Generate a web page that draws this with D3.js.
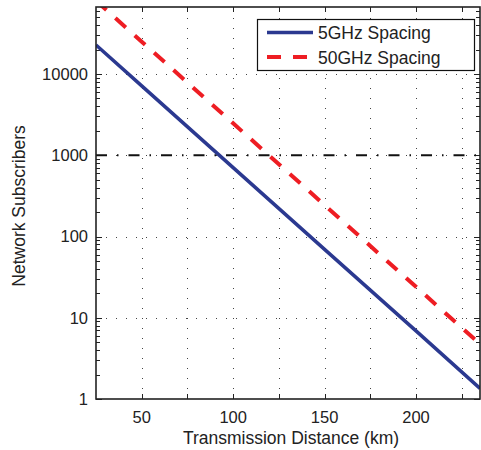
<!DOCTYPE html>
<html><head><meta charset="utf-8">
<script src="https://cdn.jsdelivr.net/npm/d3@7"></script>
<style>body{margin:0;background:#fff}svg{display:block}</style>
</head><body>
<svg id="c" width="481" height="450"></svg>
<script>
// ---- data ----
const distances = [25, 50, 100, 150, 200, 235];          // km
const subs5GHz  = [22800, 7150, 705, 69.5, 6.9, 1.35];
const subs50GHz = [79800, 25000, 2470, 244, 24, 4.75];
const targetSubscribers = 1000;
const xTickValues = [50, 75, 100, 125, 150, 175, 200, 225];
const xTickLabels = ["50", "", "100", "", "150", "", "200", ""];
const yTickValues = [1, 10, 100, 1000, 10000];
const yTickLabels = ["1", "10", "100", "1000", "10000"];
const seriesNames = ["5GHz Spacing", "50GHz Spacing"];
const xDomain = [25, 235];
const yDomain = [1, 66800];

// ---- layout ----
const L = 96, R = 480, T = 7, B = 399;
const svg = d3.select("#c");
const font = "'Liberation Sans', Arial, Helvetica, sans-serif";
const x = d3.scaleLinear().domain(xDomain).range([L, R]);
const y = d3.scaleLog().domain(yDomain).range([B, T]);

svg.append("defs").append("clipPath").attr("id","clip")
  .append("rect").attr("x",L).attr("y",T).attr("width",R-L).attr("height",B-T);

// grid
const grid = svg.append("g").attr("stroke","#444").attr("stroke-width",1).attr("stroke-dasharray","1,9");
grid.selectAll("line.v").data(xTickValues).join("line")
  .attr("x1",d=>Math.round(x(d))+0.5).attr("x2",d=>Math.round(x(d))+0.5).attr("y1",B).attr("y2",T);
grid.selectAll("line.h").data(yTickValues.filter(d=>d>1)).join("line")
  .attr("y1",d=>Math.round(y(d))+0.5).attr("y2",d=>Math.round(y(d))+0.5).attr("x1",L).attr("x2",R);

// ticks
const tk = svg.append("g").attr("stroke","#222").attr("stroke-width",1);
xTickValues.forEach(v=>{
  const xx = Math.round(x(v))+0.5;
  tk.append("line").attr("x1",xx).attr("x2",xx).attr("y1",B).attr("y2",B-5);
  tk.append("line").attr("x1",xx).attr("x2",xx).attr("y1",T).attr("y2",T+5);
});
const minor = [];
for (let e=0; e<5; e++) for (let m=2; m<=9; m++) { const v=m*Math.pow(10,e); if (v<=yDomain[1]) minor.push(v); }
minor.forEach(v=>{
  const yy = Math.round(y(v))+0.5;
  tk.append("line").attr("x1",L).attr("x2",L+4).attr("y1",yy).attr("y2",yy);
  tk.append("line").attr("x1",R).attr("x2",R-4).attr("y1",yy).attr("y2",yy);
});
yTickValues.forEach(v=>{
  const yy = Math.round(y(v))+0.5;
  tk.append("line").attr("x1",L).attr("x2",L+6).attr("y1",yy).attr("y2",yy);
  tk.append("line").attr("x1",R).attr("x2",R-6).attr("y1",yy).attr("y2",yy);
});

// target line
const plot = svg.append("g").attr("clip-path","url(#clip)");
plot.append("line").attr("x1",L).attr("x2",R)
  .attr("y1",y(targetSubscribers)).attr("y2",y(targetSubscribers))
  .attr("stroke","#111").attr("stroke-width",2).attr("stroke-dasharray","11,10,1.5,10");

const line = d3.line().x((d,i)=>x(distances[i])).y(d=>y(d));
plot.append("path").datum(subs5GHz).attr("d",line).attr("fill","none")
  .attr("stroke","#2b3990").attr("stroke-width",3.5);
plot.append("path").datum(subs50GHz).attr("d",line).attr("fill","none")
  .attr("stroke","#ee1d23").attr("stroke-width",4).attr("stroke-dasharray","14,12");

// axes box
svg.append("rect").attr("x",L).attr("y",T).attr("width",R-L).attr("height",B-T)
  .attr("fill","none").attr("stroke","#222").attr("stroke-width",1.6);

// tick labels
const tl = svg.append("g").attr("font-family",font).attr("font-size",16.5).attr("fill","#222");
xTickValues.forEach((v,i)=>{ if (xTickLabels[i]) tl.append("text").attr("x",x(v)).attr("y",423).attr("text-anchor","middle").text(xTickLabels[i]); });
yTickValues.forEach((v,i)=>{ tl.append("text").attr("x",88).attr("y",y(v)).attr("dy","0.36em").attr("text-anchor","end").text(yTickLabels[i]); });

// axis titles
svg.append("text").attr("x",291).attr("y",444).attr("text-anchor","middle")
  .attr("font-family",font).attr("font-size",17.5).attr("fill","#222").text("Transmission Distance (km)");
svg.append("text").attr("transform","translate(25,206) rotate(-90)").attr("text-anchor","middle")
  .attr("font-family",font).attr("font-size",17.5).attr("fill","#222").text("Network Subscribers");

// legend
const lg = svg.append("g");
lg.append("rect").attr("x",257.5).attr("y",19.5).attr("width",217).attr("height",51)
  .attr("fill","#fff").attr("stroke","#111").attr("stroke-width",1.2);
const legColors = ["#2b3990","#ee1d23"], legDash = [null,"14,12"], legW = [3.5,4];
seriesNames.forEach((n,i)=>{
  const yy = 32.5 + i*24.5;
  lg.append("line").attr("x1",267).attr("x2",313).attr("y1",yy).attr("y2",yy)
    .attr("stroke",legColors[i]).attr("stroke-width",legW[i]).attr("stroke-dasharray",legDash[i]);
  lg.append("text").attr("x",318).attr("y",yy+6.5).attr("font-family",font).attr("font-size",17.5)
    .attr("fill","#222").text(n);
});
</script>
</body></html>
